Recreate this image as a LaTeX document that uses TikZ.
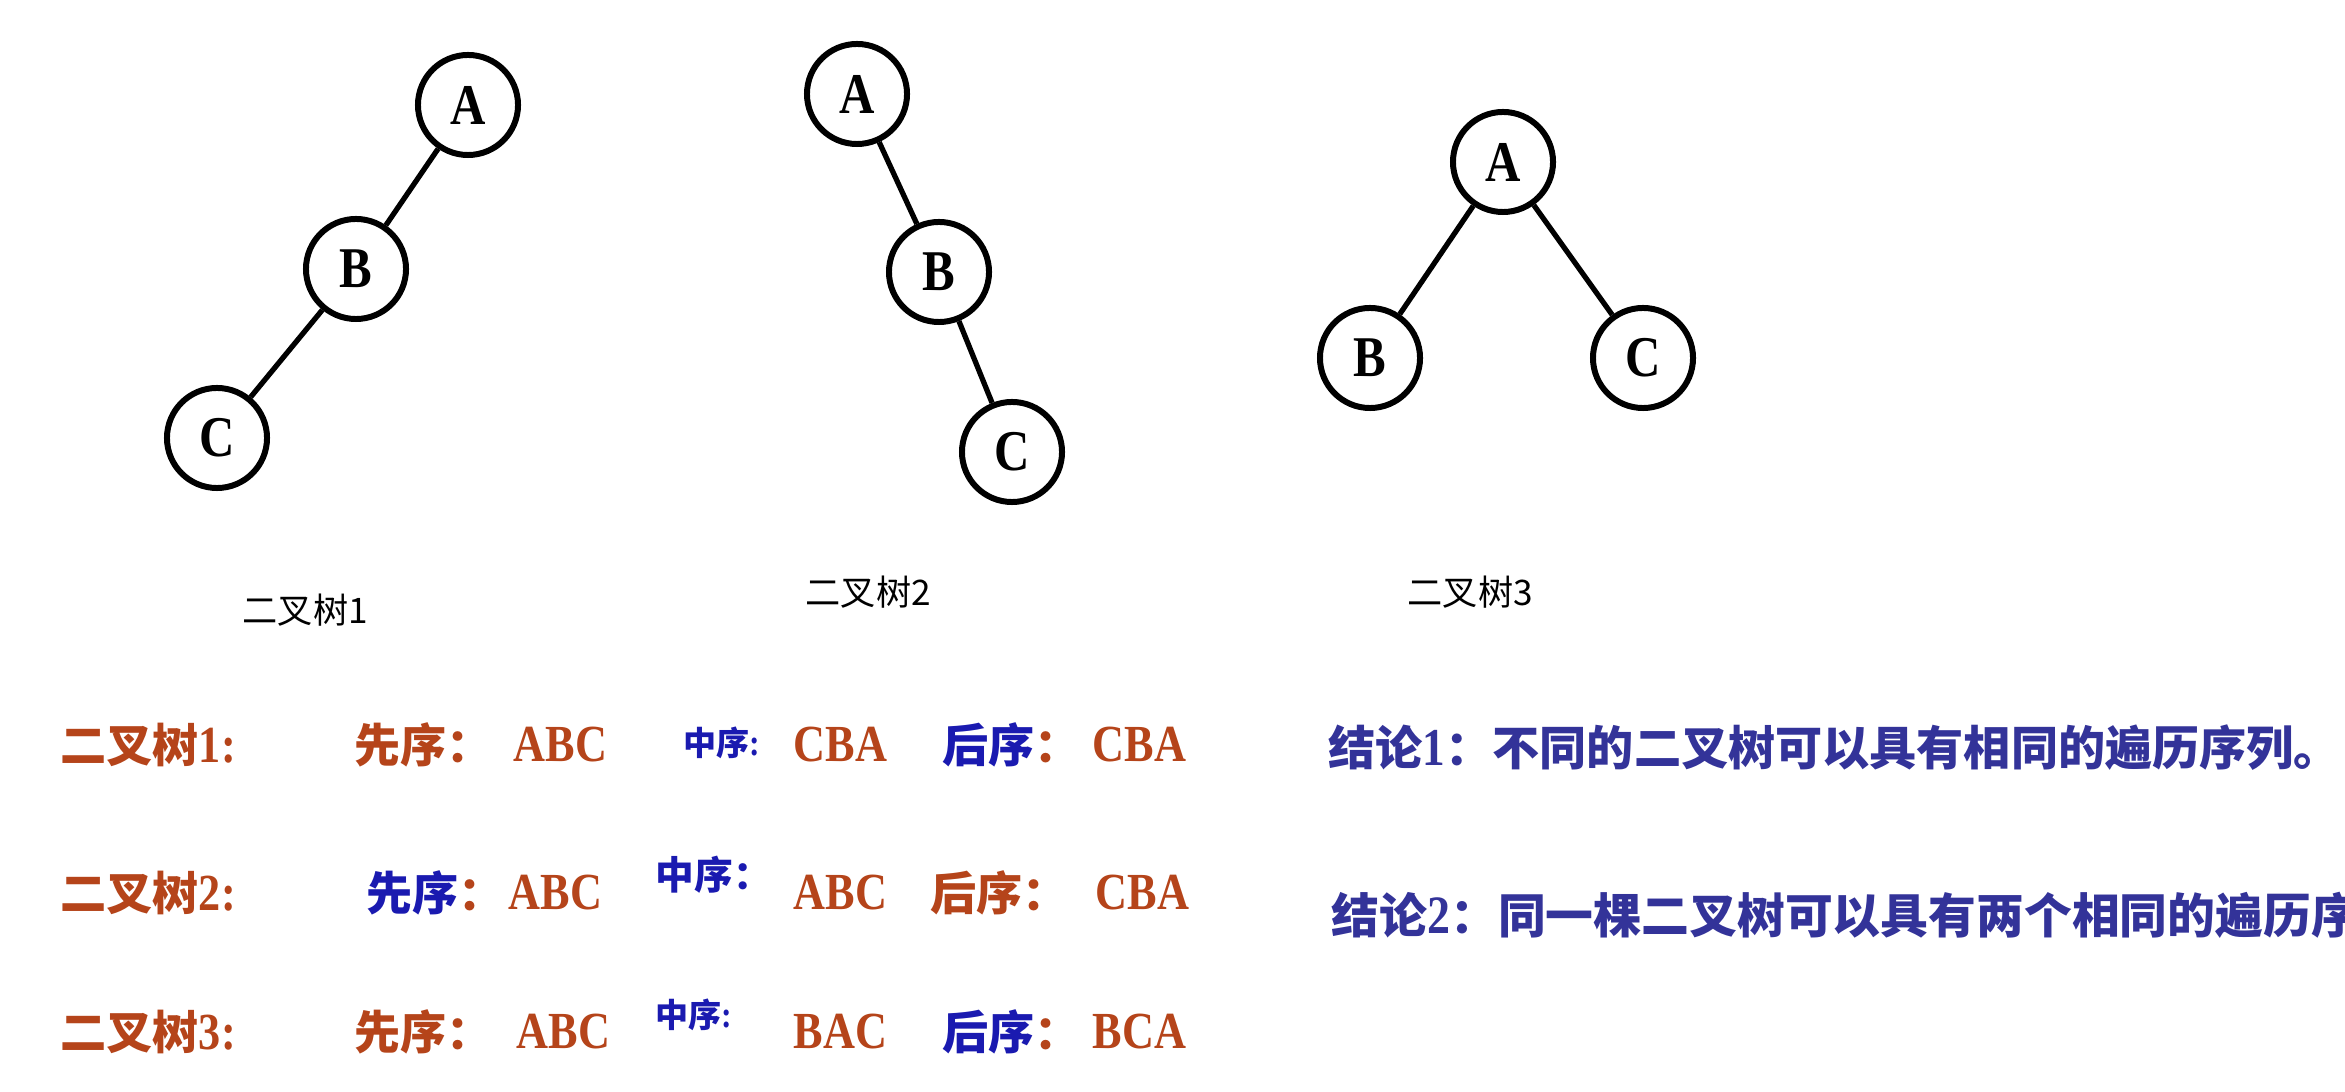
\documentclass[tikz,border=0pt]{standalone}
\usepackage{fontspec}
\setmainfont{Liberation Serif}[FakeStretch=0.85,Scale=1.13]
\newfontfamily\cjk{Noto Sans CJK SC}
\usepackage{tikz}
\definecolor{rust}{HTML}{B5441A}
\definecolor{seqblue}{HTML}{1A1AB0}
\definecolor{noteblue}{HTML}{333399}
\tikzstyle{tnode}=[circle, draw, line width=1.7pt, minimum size=1cm, inner sep=0pt, font=\fontsize{14.5}{16}\selectfont\bfseries]
\tikzstyle{branch}=[line width=1.5pt]
\tikzstyle{treelabel}=[anchor=west, inner sep=0pt, font=\cjk\fontsize{10}{11}\selectfont]
\tikzstyle{seq}=[anchor=west, inner sep=0pt, font=\fontsize{13.1}{14}\selectfont\bfseries, text=rust]
\tikzstyle{tag}=[seq, text=seqblue]
\tikzstyle{midtag}=[anchor=west, inner sep=0pt, font=\fontsize{9.4}{10}\selectfont\bfseries, text=seqblue]
\tikzstyle{note}=[anchor=west, inner sep=0pt, font=\fontsize{13.6}{15}\selectfont\bfseries, text=noteblue]

\begin{document}
\begin{tikzpicture}[x=0.01cm,y=-0.01cm]
        \useasboundingbox (0,0) rectangle (2345,1092);
            \node [tnode] (a1) at (468,105) {A};
            \node [tnode] (b1) at (356,269) {B};
            \node [tnode] (c1) at (217,438) {C};
            \draw [branch] (a1) -- (b1);
            \draw [branch] (b1) -- (c1);
            \node [tnode] (a2) at (857,94) {A};
            \node [tnode] (b2) at (939,272) {B};
            \node [tnode] (c2) at (1012,452) {C};
            \draw [branch] (a2) -- (b2);
            \draw [branch] (b2) -- (c2);
            \node [tnode] (a3) at (1503,162) {A};
            \node [tnode] (b3) at (1370,358) {B};
            \node [tnode] (c3) at (1643,358) {C};
            \draw [branch] (a3) -- (b3);
            \draw [branch] (a3) -- (c3);
            \node [treelabel] (t1) at (242,610) {二叉树1};
            \node [treelabel] (t2) at (805,592) {二叉树2};
            \node [treelabel] (t3) at (1407,592) {二叉树3};
            \node [seq] (r1) at (60,745) {{\cjk 二叉树}1:};
            \node [seq] (pre1) at (354,745) {{\cjk 先序：}};
            \node [seq] (pres1) at (513,745) {ABC};
            \node [midtag] (in1) at (683,743) {{\cjk 中序}:};
            \node [seq] (ins1) at (793,745) {CBA};
            \node [tag] (post1) at (942,745) {{\cjk 后序}{\color{rust}\cjk ：}};
            \node [seq] (posts1) at (1092,745) {CBA};
            \node [seq] (r2) at (60,893) {{\cjk 二叉树}2:};
            \node [tag] (pre2) at (366,893) {{\cjk 先序}{\color{rust}\cjk ：}};
            \node [seq] (pres2) at (508,893) {ABC};
            \node [midtag, font=\fontsize{11}{12}\selectfont\bfseries] (in2) at (655,875) {{\cjk 中序：}};
            \node [seq] (ins2) at (793,893) {ABC};
            \node [seq] (post2) at (930,893) {{\cjk 后序：}};
            \node [seq] (posts2) at (1095,893) {CBA};
            \node [seq] (r3) at (60,1032) {{\cjk 二叉树}3:};
            \node [seq] (pre3) at (354,1032) {{\cjk 先序：}};
            \node [seq] (pres3) at (516,1032) {ABC};
            \node [midtag] (in3) at (655,1015) {{\cjk 中序}:};
            \node [seq] (ins3) at (793,1032) {BAC};
            \node [tag] (post3) at (942,1032) {{\cjk 后序}{\color{rust}\cjk ：}};
            \node [seq] (posts3) at (1092,1032) {BCA};
            \node [note, font=\fontsize{13.4}{15}\selectfont\bfseries] (n1) at (1328,748) {{\cjk 结论}1{\cjk ：不同的二叉树可以具有相同的遍历序列。}};
            \node [note] (n2) at (1331,915) {{\cjk 结论}2{\cjk ：同一棵二叉树可以具有两个相同的遍历序}};
        \end{tikzpicture}
\end{document}
